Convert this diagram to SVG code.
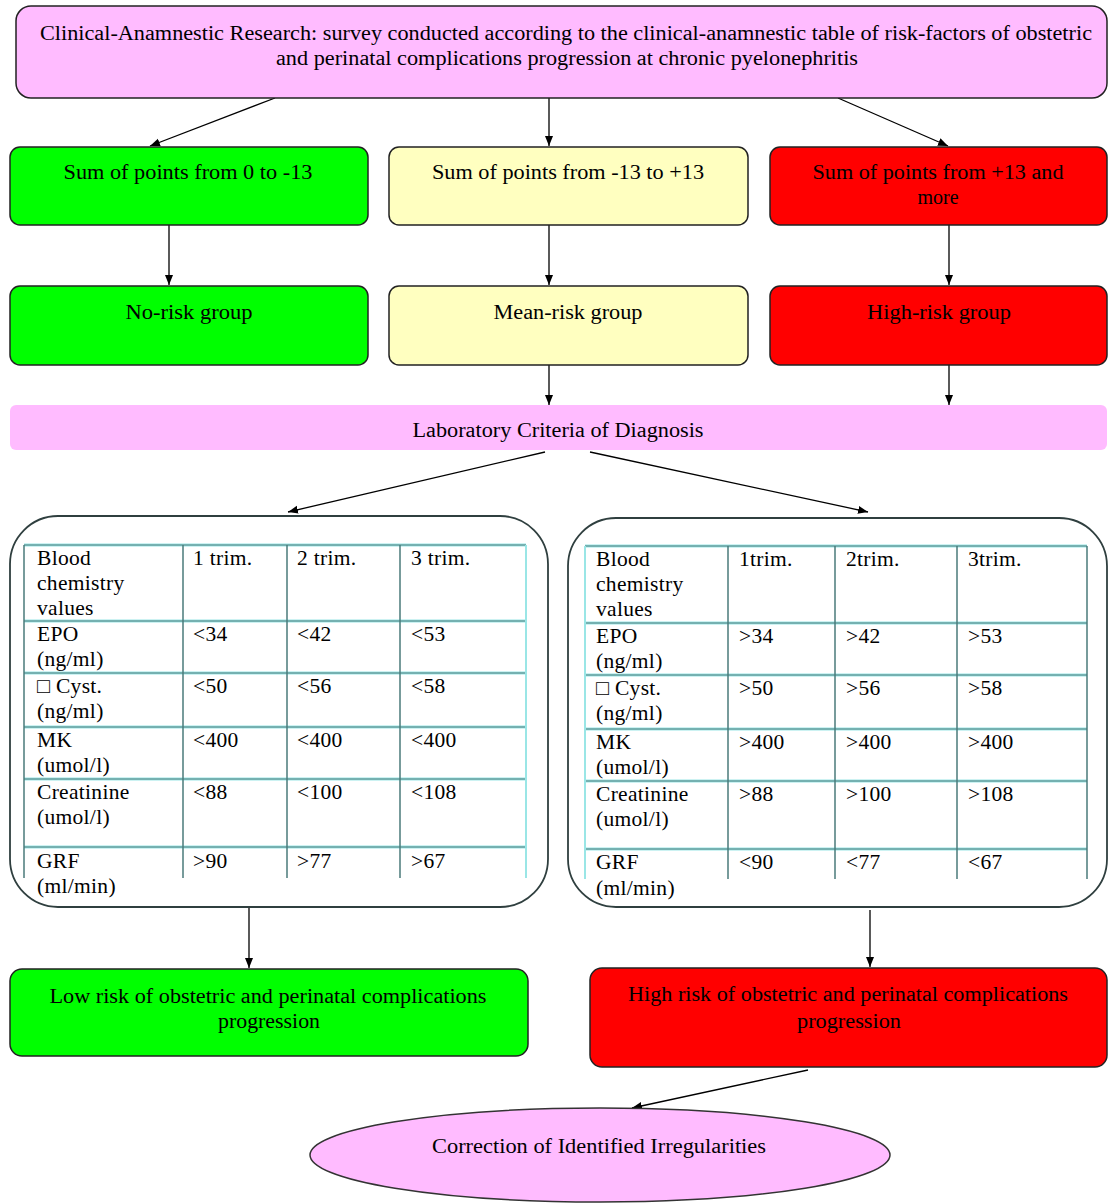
<svg xmlns="http://www.w3.org/2000/svg" width="1108" height="1203" viewBox="0 0 1108 1203">
<defs>
<style>
text{font-family:"Liberation Serif","Times New Roman",serif;font-size:20px;fill:#000}
.c{text-anchor:middle}
.t{font-size:21.5px;letter-spacing:0.3px}
.box{stroke:#222;stroke-width:1.5}
.pink{fill:#FFBBFF}
.green{fill:#00FF00}
.yellow{fill:#FFFFC0}
.red{fill:#FF0000}
.cont{fill:#fff;stroke:#2f3f3f;stroke-width:1.8}
.hl{stroke:#9AE6E6;stroke-width:3}
.hd{stroke:#3d5f5f;stroke-width:0.8}
.vl{stroke:#4a7a7a;stroke-width:1.5}
.edge{stroke:#000;stroke-width:1.3;fill:none;marker-end:url(#ah)}
</style>
<marker id="ah" viewBox="0 0 10 10" refX="10" refY="5" markerWidth="10" markerHeight="10" markerUnits="userSpaceOnUse" orient="auto">
<path d="M0,1 L10,5 L0,9 Z" fill="#000"/>
</marker>
</defs>
<rect width="1108" height="1203" fill="#fff"/>

<g id="connectors">
<line class="edge" x1="275" y1="98" x2="150" y2="146"/>
<line class="edge" x1="549" y1="98" x2="549" y2="146"/>
<line class="edge" x1="838" y1="98" x2="948" y2="146"/>
<line class="edge" x1="169" y1="225" x2="169" y2="285"/>
<line class="edge" x1="549" y1="225" x2="549" y2="285"/>
<line class="edge" x1="949" y1="225" x2="949" y2="285"/>
<line class="edge" x1="549" y1="365" x2="549" y2="405"/>
<line class="edge" x1="949" y1="365" x2="949" y2="405"/>
<line class="edge" x1="545" y1="452" x2="288" y2="512"/>
<line class="edge" x1="590" y1="452" x2="868" y2="512"/>
<line class="edge" x1="249" y1="907" x2="249" y2="968"/>
<line class="edge" x1="870" y1="910" x2="870" y2="967"/>
<line class="edge" x1="808" y1="1070" x2="632" y2="1108"/>
</g>

<g id="n-top">
<rect class="box pink" x="16" y="6" width="1091" height="92" rx="15"/>
<text class="c" x="566" y="40" textLength="1052" lengthAdjust="spacingAndGlyphs">Clinical-Anamnestic Research: survey conducted according to the clinical-anamnestic table of risk-factors of obstetric</text>
<text class="c" x="567" y="65" textLength="582" lengthAdjust="spacingAndGlyphs">and perinatal complications progression at chronic pyelonephritis</text>
</g>

<g id="n-sum1">
<rect class="box green" x="10" y="147" width="358" height="78" rx="10"/>
<text class="c" x="188" y="179" textLength="249" lengthAdjust="spacingAndGlyphs">Sum of points from 0 to -13</text>
</g>
<g id="n-sum2">
<rect class="box yellow" x="389" y="147" width="359" height="78" rx="10"/>
<text class="c" x="568" y="179" textLength="272" lengthAdjust="spacingAndGlyphs">Sum of points from -13 to +13</text>
</g>
<g id="n-sum3">
<rect class="box red" x="770" y="147" width="337" height="78" rx="10"/>
<text class="c" x="938" y="179" textLength="251" lengthAdjust="spacingAndGlyphs">Sum of points from +13 and</text>
<text class="c" x="938" y="204">more</text>
</g>

<g id="n-norisk">
<rect class="box green" x="10" y="286" width="358" height="79" rx="10"/>
<text class="c" x="189" y="319" textLength="127" lengthAdjust="spacingAndGlyphs">No-risk group</text>
</g>
<g id="n-meanrisk">
<rect class="box yellow" x="389" y="286" width="359" height="79" rx="10"/>
<text class="c" x="568" y="319" textLength="149" lengthAdjust="spacingAndGlyphs">Mean-risk group</text>
</g>
<g id="n-highrisk">
<rect class="box red" x="770" y="286" width="337" height="79" rx="10"/>
<text class="c" x="939" y="319" textLength="144" lengthAdjust="spacingAndGlyphs">High-risk group</text>
</g>

<g id="n-lab">
<rect class="pink" x="10" y="405" width="1097" height="45" rx="6"/>
<text class="c" x="558" y="437" textLength="291" lengthAdjust="spacingAndGlyphs">Laboratory Criteria of Diagnosis</text>
</g>

<g id="n-table-low">
<rect class="cont" x="10" y="516" width="538" height="391" rx="48"/>
<g>
<line class="hl" x1="24" y1="545" x2="526" y2="545"/>
<line class="hl" x1="24" y1="621" x2="526" y2="621"/>
<line class="hl" x1="24" y1="673" x2="526" y2="673"/>
<line class="hl" x1="24" y1="727" x2="526" y2="727"/>
<line class="hl" x1="24" y1="779" x2="526" y2="779"/>
<line class="hl" x1="24" y1="847" x2="526" y2="847"/>
<line class="hd" x1="24" y1="545" x2="526" y2="545"/>
<line class="hd" x1="24" y1="621" x2="526" y2="621"/>
<line class="hd" x1="24" y1="673" x2="526" y2="673"/>
<line class="hd" x1="24" y1="727" x2="526" y2="727"/>
<line class="hd" x1="24" y1="779" x2="526" y2="779"/>
<line class="hd" x1="24" y1="847" x2="526" y2="847"/>
<line class="vl" x1="24" y1="545" x2="24" y2="878"/>
<line class="vl" x1="183" y1="545" x2="183" y2="878"/>
<line class="vl" x1="287" y1="545" x2="287" y2="878"/>
<line class="vl" x1="400" y1="545" x2="400" y2="878"/>
<line class="hl" x1="526" y1="545" x2="526" y2="878" style="stroke-width:2"/>
</g>
<g>
<text class="t" x="37" y="565">Blood</text>
<text class="t" x="37" y="590">chemistry</text>
<text class="t" x="37" y="615">values</text>
<text class="t" x="193" y="565">1 trim.</text>
<text class="t" x="297" y="565">2 trim.</text>
<text class="t" x="411" y="565">3 trim.</text>
<text class="t" x="37" y="641">EPO</text>
<text class="t" x="37" y="666">(ng/ml)</text>
<text class="t" x="193" y="641">&lt;34</text>
<text class="t" x="297" y="641">&lt;42</text>
<text class="t" x="411" y="641">&lt;53</text>
<text class="t" x="37" y="693">□ Cyst.</text>
<text class="t" x="37" y="718">(ng/ml)</text>
<text class="t" x="193" y="693">&lt;50</text>
<text class="t" x="297" y="693">&lt;56</text>
<text class="t" x="411" y="693">&lt;58</text>
<text class="t" x="37" y="747">MK</text>
<text class="t" x="37" y="772">(umol/l)</text>
<text class="t" x="193" y="747">&lt;400</text>
<text class="t" x="297" y="747">&lt;400</text>
<text class="t" x="411" y="747">&lt;400</text>
<text class="t" x="37" y="799">Creatinine</text>
<text class="t" x="37" y="824">(umol/l)</text>
<text class="t" x="193" y="799">&lt;88</text>
<text class="t" x="297" y="799">&lt;100</text>
<text class="t" x="411" y="799">&lt;108</text>
<text class="t" x="37" y="868">GRF</text>
<text class="t" x="37" y="893">(ml/min)</text>
<text class="t" x="193" y="868">&gt;90</text>
<text class="t" x="297" y="868">&gt;77</text>
<text class="t" x="411" y="868">&gt;67</text>
</g>
</g>

<g id="n-table-high">
<rect class="cont" x="568" y="518" width="539" height="389" rx="48"/>
<g>
<line class="hl" x1="585" y1="546" x2="1087" y2="546"/>
<line class="hl" x1="585" y1="623" x2="1087" y2="623"/>
<line class="hl" x1="585" y1="675" x2="1087" y2="675"/>
<line class="hl" x1="585" y1="729" x2="1087" y2="729"/>
<line class="hl" x1="585" y1="781" x2="1087" y2="781"/>
<line class="hl" x1="585" y1="849" x2="1087" y2="849"/>
<line class="hd" x1="585" y1="546" x2="1087" y2="546"/>
<line class="hd" x1="585" y1="623" x2="1087" y2="623"/>
<line class="hd" x1="585" y1="675" x2="1087" y2="675"/>
<line class="hd" x1="585" y1="729" x2="1087" y2="729"/>
<line class="hd" x1="585" y1="781" x2="1087" y2="781"/>
<line class="hd" x1="585" y1="849" x2="1087" y2="849"/>
<line class="hl" x1="585" y1="546" x2="585" y2="879" style="stroke-width:2"/>
<line class="vl" x1="728" y1="546" x2="728" y2="879"/>
<line class="vl" x1="835" y1="546" x2="835" y2="879"/>
<line class="vl" x1="957" y1="546" x2="957" y2="879"/>
<line class="vl" x1="1087" y1="546" x2="1087" y2="879"/>
</g>
<g>
<text class="t" x="596" y="566">Blood</text>
<text class="t" x="596" y="591">chemistry</text>
<text class="t" x="596" y="616">values</text>
<text class="t" x="739" y="566">1trim.</text>
<text class="t" x="846" y="566">2trim.</text>
<text class="t" x="968" y="566">3trim.</text>
<text class="t" x="596" y="643">EPO</text>
<text class="t" x="596" y="668">(ng/ml)</text>
<text class="t" x="739" y="643">&gt;34</text>
<text class="t" x="846" y="643">&gt;42</text>
<text class="t" x="968" y="643">&gt;53</text>
<text class="t" x="596" y="695">□ Cyst.</text>
<text class="t" x="596" y="720">(ng/ml)</text>
<text class="t" x="739" y="695">&gt;50</text>
<text class="t" x="846" y="695">&gt;56</text>
<text class="t" x="968" y="695">&gt;58</text>
<text class="t" x="596" y="749">MK</text>
<text class="t" x="596" y="774">(umol/l)</text>
<text class="t" x="739" y="749">&gt;400</text>
<text class="t" x="846" y="749">&gt;400</text>
<text class="t" x="968" y="749">&gt;400</text>
<text class="t" x="596" y="801">Creatinine</text>
<text class="t" x="596" y="826">(umol/l)</text>
<text class="t" x="739" y="801">&gt;88</text>
<text class="t" x="846" y="801">&gt;100</text>
<text class="t" x="968" y="801">&gt;108</text>
<text class="t" x="596" y="869">GRF</text>
<text class="t" x="596" y="895">(ml/min)</text>
<text class="t" x="739" y="869">&lt;90</text>
<text class="t" x="846" y="869">&lt;77</text>
<text class="t" x="968" y="869">&lt;67</text>
</g>
</g>

<g id="n-lowrisk">
<rect class="box green" x="10" y="969" width="518" height="87" rx="12"/>
<text class="c" x="268" y="1003" textLength="437" lengthAdjust="spacingAndGlyphs">Low risk of obstetric and perinatal complications</text>
<text class="c" x="269" y="1028" textLength="102" lengthAdjust="spacingAndGlyphs">progression</text>
</g>
<g id="n-highrisk-out">
<rect class="box red" x="590" y="968" width="517" height="99" rx="12"/>
<text class="c" x="848" y="1001" textLength="440" lengthAdjust="spacingAndGlyphs">High risk of obstetric and perinatal complications</text>
<text class="c" x="849" y="1028" textLength="104" lengthAdjust="spacingAndGlyphs">progression</text>
</g>

<g id="n-correction">
<ellipse cx="600" cy="1155" rx="290" ry="47" fill="#FFBBFF" stroke="#333" stroke-width="1.5"/>
<text class="c" x="599" y="1153" textLength="334" lengthAdjust="spacingAndGlyphs">Correction of Identified Irregularities</text>
</g>
</svg>
